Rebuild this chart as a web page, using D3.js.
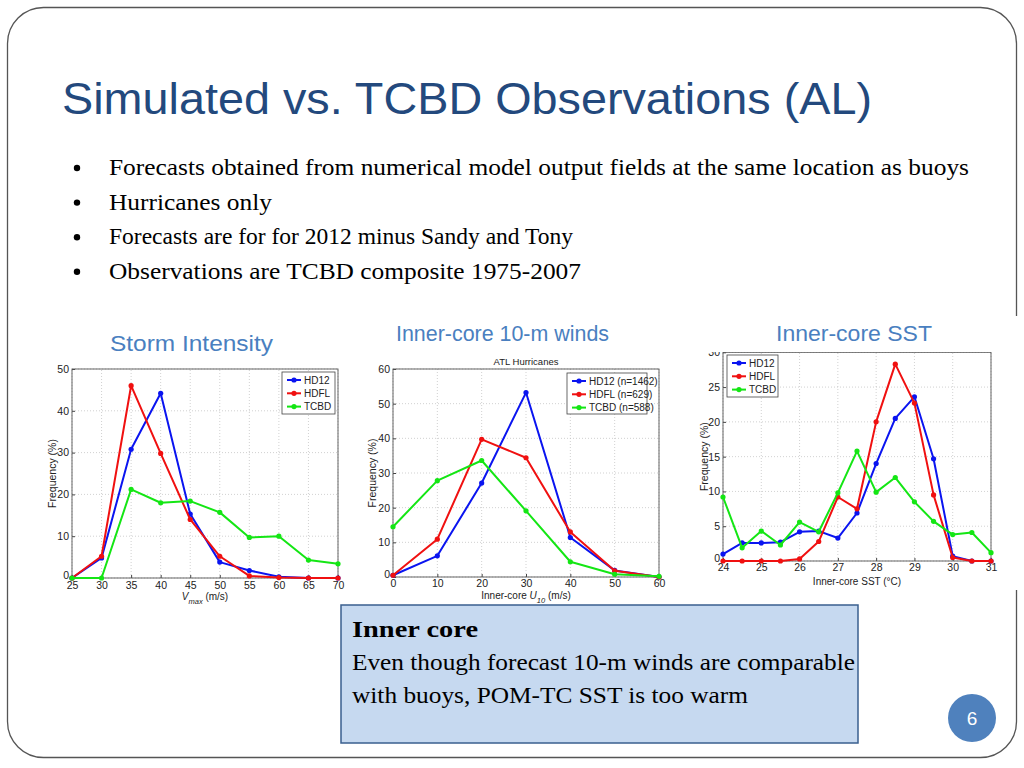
<!DOCTYPE html>
<html><head><meta charset="utf-8">
<script src="https://cdn.jsdelivr.net/npm/d3@7/dist/d3.min.js"></script>
<style>html,body{margin:0;padding:0;background:#fff;}svg{display:block;}</style>
</head><body>
<svg id="s" width="1024" height="768"></svg>
<script>
// ---------------- DATA ----------------
const seriesNames = ["HD12", "HDFL", "TCBD"];
const legendIntensity = ["HD12", "HDFL", "TCBD"];
const legendWinds = ["HD12 (n=1462)", "HDFL (n=629)", "TCBD (n=588)"];
const legendSST = ["HD12", "HDFL", "TCBD"];

const vmaxBins = [25, 30, 35, 40, 45, 50, 55, 60, 65, 70];
const vmaxHD12 = [0, 4.8, 30.8, 44.2, 15.3, 3.8, 1.8, 0.3, 0, 0];
const vmaxHDFL = [0, 5.2, 46.0, 29.8, 14.0, 5.2, 0.5, 0.1, 0, 0];
const vmaxTCBD = [0, 0, 21.2, 18.0, 18.4, 15.7, 9.7, 10.0, 4.3, 3.4];
const vmaxXTicks = [25, 30, 35, 40, 45, 50, 55, 60, 65, 70];
const vmaxYTicks = [0, 10, 20, 30, 40, 50];

const u10Bins = [0, 10, 20, 30, 40, 50, 60];
const u10HD12 = [0.5, 6.1, 27.1, 53.2, 11.4, 1.9, 0];
const u10HDFL = [0.5, 10.9, 39.7, 34.4, 13.0, 1.8, 0];
const u10TCBD = [14.5, 27.8, 33.6, 19.1, 4.4, 0.8, 0.2];
const u10XTicks = [0, 10, 20, 30, 40, 50, 60];
const u10YTicks = [0, 10, 20, 30, 40, 50, 60];

const sstBins = [24, 24.5, 25, 25.5, 26, 26.5, 27, 27.5, 28, 28.5, 29, 29.5, 30, 30.5, 31];
const sstHD12 = [1.0, 2.6, 2.6, 2.7, 4.2, 4.3, 3.3, 6.9, 14.0, 20.5, 23.6, 14.7, 0.7, 0, 0];
const sstHDFL = [0, 0, 0, 0, 0.3, 2.8, 9.2, 7.5, 20.0, 28.3, 22.7, 9.5, 0.5, 0, 0];
const sstTCBD = [9.2, 1.9, 4.3, 2.3, 5.6, 4.2, 9.8, 15.8, 9.9, 12.0, 8.5, 5.7, 3.8, 4.1, 1.2];
const sstXTicks = [24, 25, 26, 27, 28, 29, 30, 31];
const sstYTicks = [0, 5, 10, 15, 20, 25, 30];

const bullets = [
  "Forecasts obtained from numerical model output fields at the same location as buoys",
  "Hurricanes only",
  "Forecasts are for for 2012 minus Sandy and Tony",
  "Observations are TCBD composite 1975-2007"
];
const boxLines = ["Inner core", "Even though forecast 10-m winds are comparable", "with buoys, POM-TC SST is too warm"];

// ---------------- STYLE ----------------
const colors = ["#0a14f0", "#f01010", "#14e614"];
const svg = d3.select("#s");
const sans = "'Liberation Sans', Arial, Helvetica, sans-serif";
const serif = "'Liberation Serif', 'Times New Roman', serif";

// slide frame
svg.append("rect").attr("x", 7.5).attr("y", 7.5).attr("width", 1009).attr("height", 750)
  .attr("rx", 36).attr("ry", 36).attr("fill", "#fff").attr("stroke", "#555").attr("stroke-width", 1.3);

// title
svg.append("text").attr("x", 62).attr("y", 114).attr("font-family", sans).attr("font-size", 45)
  .attr("fill", "#23497d").attr("textLength", 810).attr("lengthAdjust", "spacingAndGlyphs")
  .text("Simulated vs. TCBD Observations (AL)");

// bullets
const bulletW = [860, 163, 464, 472];
bullets.forEach((b, i) => {
  const y = 175 + i * 34.6;
  svg.append("circle").attr("cx", 77).attr("cy", y - 7).attr("r", 3.2).attr("fill", "#000");
  svg.append("text").attr("x", 109).attr("y", y).attr("font-family", serif).attr("font-size", 24)
    .attr("fill", "#000").attr("textLength", bulletW[i]).attr("lengthAdjust", "spacingAndGlyphs").text(b);
});

// chart titles
const chartTitleColor = "#4a7fc0";
[["Storm Intensity", 110, 351, 163], ["Inner-core 10-m winds", 396, 341, 213], ["Inner-core SST", 776, 341, 156]]
  .forEach(([t, x, y, w]) => {
    svg.append("text").attr("x", x).attr("y", y).attr("font-family", sans).attr("font-size", 22)
      .attr("fill", chartTitleColor).attr("textLength", w).attr("lengthAdjust", "spacingAndGlyphs").text(t);
  });

// ---------------- CHART FUNCTION ----------------
function drawChart(cfg) {
  const g = svg.append("g");
  if (cfg.clipTop !== undefined) {
    const id = "clip" + Math.round(cfg.x0);
    svg.append("defs").append("clipPath").attr("id", id).append("rect")
      .attr("x", cfg.x0 - 60).attr("y", cfg.clipTop).attr("width", cfg.x1 - cfg.x0 + 100).attr("height", 400);
    g.attr("clip-path", `url(#${id})`);
    // white image background covering slide border
    svg.insert("rect", "g").attr("x", 1000).attr("y", 316).attr("width", 24).attr("height", 274).attr("fill", "#fff");
  }
  const x = d3.scaleLinear().domain(cfg.xDomain).range([cfg.x0, cfg.x1]);
  const y = d3.scaleLinear().domain(cfg.yDomain).range([cfg.y0, cfg.y1]);

  // grid
  g.append("g").selectAll("line").data(cfg.xTicks).join("line")
    .attr("x1", d => x(d)).attr("x2", d => x(d)).attr("y1", cfg.y0).attr("y2", cfg.y1)
    .attr("stroke", "#bdbdbd").attr("stroke-width", 0.7).attr("stroke-dasharray", "1,2");
  g.append("g").selectAll("line").data(cfg.yTicks).join("line")
    .attr("x1", cfg.x0).attr("x2", cfg.x1).attr("y1", d => y(d)).attr("y2", d => y(d))
    .attr("stroke", "#bdbdbd").attr("stroke-width", 0.7).attr("stroke-dasharray", "1,2");

  // axes via d3
  const ax = g.append("g").attr("transform", `translate(0,${cfg.y0})`)
    .call(d3.axisBottom(x).tickValues(cfg.xTicks).tickSize(-3).tickPadding(cfg.xPad).tickFormat(d3.format("d")));
  const ay = g.append("g").attr("transform", `translate(${cfg.x0},0)`)
    .call(d3.axisLeft(y).tickValues(cfg.yTicks).tickSize(-3).tickPadding(3).tickFormat(d3.format("d")));
  [ax, ay].forEach(a => {
    a.select(".domain").remove();
    a.selectAll("line").attr("stroke", "#444");
    a.selectAll("text").attr("font-family", sans).attr("font-size", 10.5).attr("fill", "#222");
  });
  // lift the "0" y label slightly so it clears the first x label
  ay.selectAll(".tick").filter(d => d === 0).select("text").attr("dy", "0.05em");
  // box
  g.append("rect").attr("x", cfg.x0).attr("y", cfg.y1).attr("width", cfg.x1 - cfg.x0).attr("height", cfg.y0 - cfg.y1)
    .attr("fill", "none").attr("stroke", "#555").attr("stroke-width", 0.9);

  // series
  const line = d3.line().x(d => x(d[0])).y(d => y(d[1]));
  cfg.series.forEach((vals, si) => {
    const pts = cfg.bins.map((b, i) => [b, vals[i]]);
    g.append("path").datum(pts).attr("d", line).attr("fill", "none")
      .attr("stroke", colors[si]).attr("stroke-width", 2).attr("stroke-linejoin", "round");
    g.append("g").selectAll("circle").data(pts).join("circle")
      .attr("cx", d => x(d[0])).attr("cy", d => y(d[1])).attr("r", 2.6).attr("fill", colors[si]);
  });

  // y label
  g.append("text").attr("transform", `translate(${cfg.yLabelX},${(cfg.y0 + cfg.y1) / 2}) rotate(-90)`)
    .attr("text-anchor", "middle").attr("font-family", sans).attr("font-size", 10.5).attr("fill", "#222")
    .text("Frequency (%)");

  // x label
  const xl = g.append("text").attr("x", (cfg.x0 + cfg.x1) / 2 + (cfg.xLabelDx || 0)).attr("y", cfg.xLabelY)
    .attr("text-anchor", "middle").attr("font-family", sans).attr("font-size", 10).attr("fill", "#222");
  cfg.xLabel(xl);

  if (cfg.top) {
    g.append("text").attr("x", (cfg.x0 + cfg.x1) / 2).attr("y", cfg.y1 - 4).attr("text-anchor", "middle")
      .attr("font-family", sans).attr("font-size", 9.5).attr("fill", "#222").text(cfg.top);
  }

  // legend
  const L = cfg.legend;
  const lg = g.append("g");
  lg.append("rect").attr("x", L.x).attr("y", L.y).attr("width", L.w).attr("height", L.h)
    .attr("fill", "#fff").attr("stroke", "#444").attr("stroke-width", 0.8);
  L.labels.forEach((t, i) => {
    const yy = L.y + 8 + i * 13.3;
    lg.append("line").attr("x1", L.x + 5).attr("x2", L.x + 19).attr("y1", yy).attr("y2", yy)
      .attr("stroke", colors[i]).attr("stroke-width", 2);
    lg.append("circle").attr("cx", L.x + 12).attr("cy", yy).attr("r", 2.6).attr("fill", colors[i]);
    lg.append("text").attr("x", L.x + 22).attr("y", yy + 3.6).attr("font-family", sans).attr("font-size", 10)
      .attr("fill", "#222").text(t);
  });
}

drawChart({
  x0: 72, x1: 338, y0: 578, y1: 369, xDomain: [25, 70], yDomain: [0, 50], xPad: 3.5,
  xTicks: vmaxXTicks, yTicks: vmaxYTicks, bins: vmaxBins, series: [vmaxHD12, vmaxHDFL, vmaxTCBD],
  yLabelX: 56, xLabelY: 599.5, xLabelDx: 0,
  xLabel: t => {
    t.append("tspan").attr("font-style", "italic").text("V");
    t.append("tspan").attr("font-size", 7.5).attr("font-style", "italic").attr("dy", 4).text("max");
    t.append("tspan").attr("dy", -4).text(" (m/s)");
  },
  legend: { x: 282, y: 372, w: 53, h: 42, labels: legendIntensity }
});

drawChart({
  x0: 393, x1: 659, y0: 577, y1: 369, xDomain: [0, 60], yDomain: [0, 60], xPad: 3,
  xTicks: u10XTicks, yTicks: u10YTicks, bins: u10Bins, series: [u10HD12, u10HDFL, u10TCBD],
  yLabelX: 376, xLabelY: 598.5, top: "ATL Hurricanes",
  xLabel: t => {
    t.append("tspan").text("Inner-core ");
    t.append("tspan").attr("font-style", "italic").text("U");
    t.append("tspan").attr("font-size", 7.5).attr("font-style", "italic").attr("dy", 4).text("10");
    t.append("tspan").attr("dy", -4).text(" (m/s)");
  },
  legend: { x: 567, y: 373, w: 80, h: 41, labels: legendWinds }
});

drawChart({
  x0: 723, x1: 991, y0: 561, y1: 352.3, xDomain: [24, 31], yDomain: [0, 30], xPad: 3,
  xTicks: sstXTicks, yTicks: sstYTicks, bins: sstBins, series: [sstHD12, sstHDFL, sstTCBD],
  yLabelX: 708, xLabelY: 584.5, clipTop: 352,
  xLabel: t => { t.text("Inner-core SST (\u00B0C)"); },
  legend: { x: 727, y: 355, w: 51, h: 42, labels: legendSST }
});

// text box
svg.append("rect").attr("x", 341).attr("y", 605).attr("width", 517).attr("height", 138)
  .attr("fill", "#c6d9f0").attr("stroke", "#3a5f8f").attr("stroke-width", 1.5);
const boxW = [126, 503, 396];
boxLines.forEach((t, i) => {
  svg.append("text").attr("x", 352).attr("y", 637 + i * 33).attr("font-family", serif)
    .attr("font-size", 24).attr("font-weight", i === 0 ? "bold" : "normal").attr("fill", "#000")
    .attr("textLength", boxW[i]).attr("lengthAdjust", "spacingAndGlyphs").text(t);
});

// page number
svg.append("circle").attr("cx", 972).attr("cy", 718).attr("r", 24).attr("fill", "#4f81bd");
svg.append("text").attr("x", 972).attr("y", 725).attr("text-anchor", "middle").attr("font-family", sans)
  .attr("font-size", 19).attr("fill", "#fff").text("6");
</script>
</body></html>
